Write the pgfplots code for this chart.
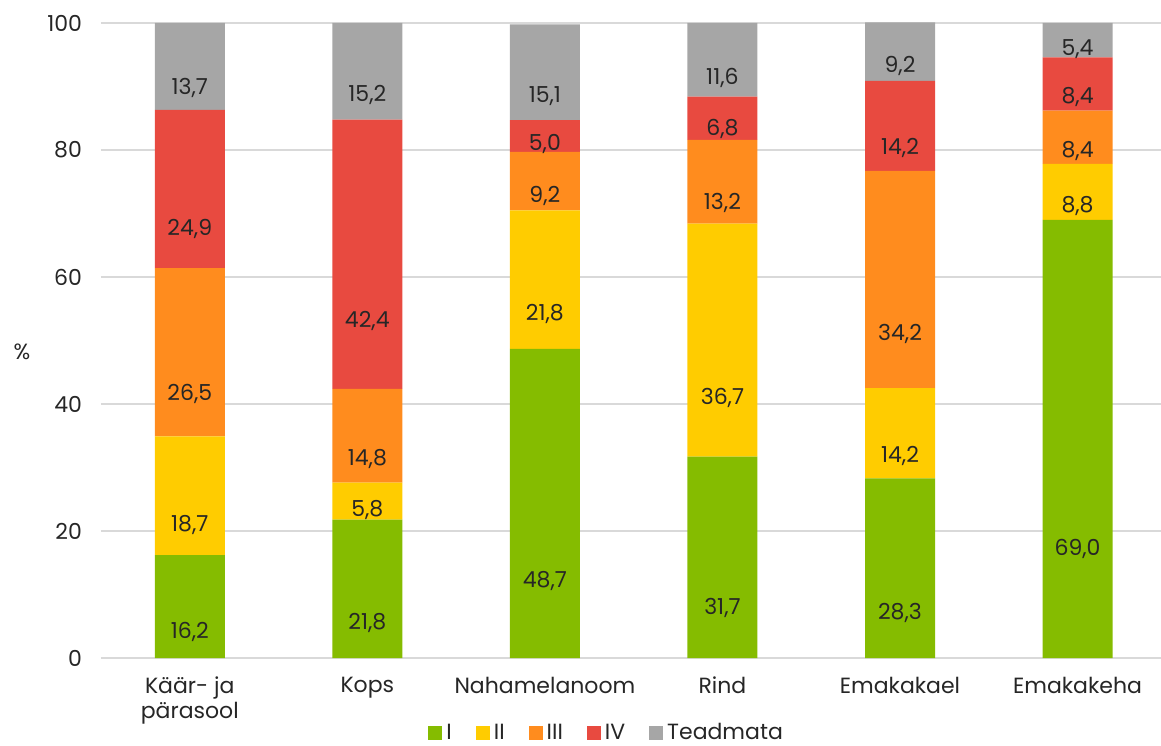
\documentclass[border=0pt]{standalone}
\usepackage{pgfplots}
\usepackage{pgfplotstable}
\pgfplotsset{compat=1.18}
\usepackage{fontspec}
\setmainfont{Poppins}

\definecolor{cI}{HTML}{85BC00}
\definecolor{cII}{HTML}{FFCC00}
\definecolor{cIII}{HTML}{FF8C1E}
\definecolor{cIV}{HTML}{E84A40}
\definecolor{cT}{HTML}{A6A6A6}
\definecolor{gridc}{HTML}{D9D9D9}
\definecolor{txt}{HTML}{262626}

% stage shares (%) by cancer site
\pgfplotstableread{
x  I     II    III   IV    T
0  16.2  18.7  26.5  24.9  13.7
1  21.8  5.8   14.8  42.4  15.2
2  48.7  21.8  9.2   5.0   15.1
3  31.7  36.7  13.2  6.8   11.6
4  28.3  14.2  34.2  14.2  9.2
5  69.0  8.8   8.4   8.4   5.4
}\stages

\begin{document}
\begin{tikzpicture}[font=\fontsize{11}{12.5}\selectfont, text=txt]
\useasboundingbox (-50.5pt,-43.5pt) rectangle (530pt,329pt);
\begin{axis}[
  at={(0,0)}, anchor=south west,
  scale only axis, width=530pt, height=317.5pt,
  ybar stacked, bar width=35pt,
  xmin=-0.5, xmax=5.47, ymin=0, ymax=100,
  xtick={0,...,5},
  xticklabels={{K\"a\"ar- ja\\p\"arasool},Kops,Nahamelanoom,Rind,Emakakael,Emakakeha},
  xticklabel style={align=center, anchor=north, yshift=-6pt, text=txt},
  ytick={0,20,...,100},
  yticklabel style={xshift=-6pt, text=txt},
  /pgf/number format/assume math mode=true,
  major tick length=0pt,
  axis x line*=bottom, axis y line*=left,
  x axis line style={draw=gridc, line width=0.8pt, -},
  y axis line style={draw=none},
  ymajorgrids, grid style={draw=gridc, line width=0.8pt},
  clip=false,
  legend style={at={(rel axis cs:0.478,0)}, anchor=center, yshift=-37.5pt,
    draw=none, fill=none, legend columns=-1, inner sep=0pt,
    /tikz/every even column/.append style={column sep=10pt},
    font=\fontsize{11}{12.5}\selectfont, text=txt},
  legend image code/.code={\fill[#1,draw=none] (0pt,-3.5pt) rectangle (7pt,3.5pt);},
  nodes near coords={\pgfmathprintnumber[use comma,fixed,fixed zerofill,precision=1,assume math mode=true]{\segval}},
  every node near coord/.append style={anchor=center, yshift=-\segval*0.79375pt,
    font=\fontsize{11}{12.5}\selectfont, text=txt},
]
\addplot[fill=cI, draw=none, visualization depends on={\thisrow{I} \as \segval}] table[x=x,y=I] {\stages};
\addplot[fill=cII, draw=none, visualization depends on={\thisrow{II} \as \segval}] table[x=x,y=II] {\stages};
\addplot[fill=cIII, draw=none, visualization depends on={\thisrow{III} \as \segval}] table[x=x,y=III] {\stages};
\addplot[fill=cIV, draw=none, visualization depends on={\thisrow{IV} \as \segval}] table[x=x,y=IV] {\stages};
\addplot[fill=cT, draw=none, visualization depends on={\thisrow{T} \as \segval}] table[x=x,y=T] {\stages};
\legend{I,II,III,IV,Teadmata}
\node[text=txt] at (rel axis cs:0,0.482) [xshift=-39.5pt] {\%};
\end{axis}
\end{tikzpicture}
\end{document}
